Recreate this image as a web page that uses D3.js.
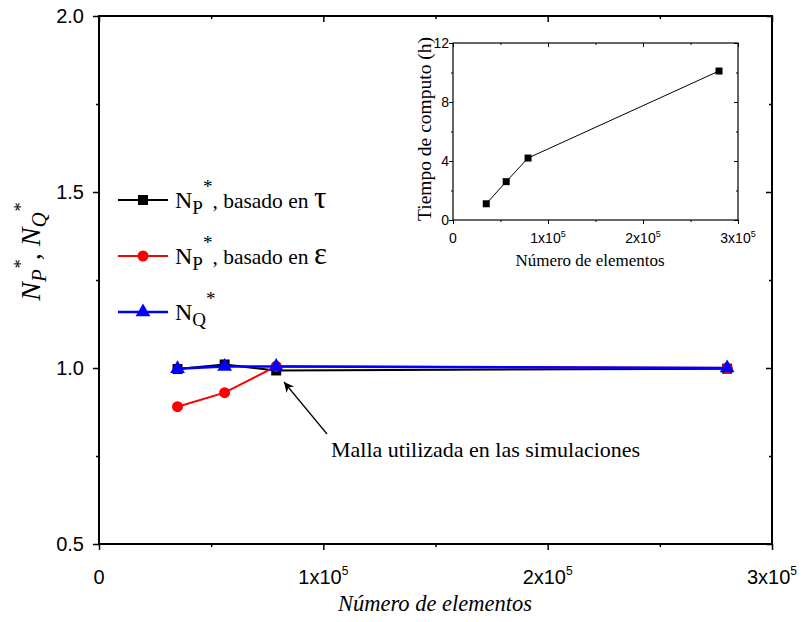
<!DOCTYPE html>
<html>
<head>
<meta charset="utf-8">
<script src="https://cdn.jsdelivr.net/npm/d3@7"></script>
<style>
  html, body { margin: 0; padding: 0; background: #fff; }
  svg { display: block; }
  .serif { font-family: "Liberation Serif", "Times New Roman", serif; }
  .sans { font-family: "Liberation Sans", Arial, sans-serif; }
</style>
</head>
<body>
<svg id="chart" width="804" height="622"></svg>
<script>
// Number of mesh elements for each simulation
const elementos = [35000, 56000, 79000, 280000];
// Normalised quantities
const npTau = [0.997, 1.01, 0.993, 0.998];
const npEps = [0.89, 0.93, 1.005, 1.0];
const nq = [0.998, 1.004, 1.004, 1.0];
// Computation time (hours) per mesh
const tiempo = [1.1, 2.6, 4.2, 10.1];

const mainYTicks = [0.5, 1.0, 1.5, 2.0];
const mainXTicks = [0, 100000, 200000, 300000];
const insetYTicks = [0, 4, 8, 12];

const svg = d3.select("#chart");

// ---------- main panel ----------
const M = { left: 99, right: 772, top: 16, bottom: 544 };
const x = d3.scaleLinear().domain([0, 300000]).range([M.left, M.right]);
const y = d3.scaleLinear().domain([0.5, 2.0]).range([M.bottom, M.top]);

function xLabel(g, v, px, py, size, supSize) {
  const t = g.append("text").attr("class", "sans").attr("x", px).attr("y", py)
    .attr("text-anchor", "middle").attr("font-size", size).attr("fill", "#000");
  if (v === 0) { t.text("0"); return; }
  const m = Math.round(v / 100000);
  t.append("tspan").text(m + "x10");
  t.append("tspan").attr("font-size", supSize).attr("dy", -size * 0.45).text("5");
}

function frame(g, xs, ys, opts) {
  const [x0, x1] = xs.range();
  const [y0, y1] = ys.range();
  // minor and major ticks on all four sides
  const bottom = d3.axisBottom(xs).tickValues(opts.xMajor).tickSize(opts.major).tickFormat("");
  const bottomMinor = d3.axisBottom(xs).tickValues(opts.xMinor).tickSize(opts.minor).tickFormat("");
  const top = d3.axisTop(xs).tickValues(opts.xMajor).tickSize(-opts.major).tickFormat("");
  const topMinor = d3.axisTop(xs).tickValues(opts.xMinor).tickSize(-opts.minor).tickFormat("");
  const left = d3.axisLeft(ys).tickValues(opts.yMajor).tickSize(opts.major).tickFormat("");
  const leftMinor = d3.axisLeft(ys).tickValues(opts.yMinor).tickSize(opts.minor).tickFormat("");
  const right = d3.axisRight(ys).tickValues(opts.yMajor).tickSize(-opts.major).tickFormat("");
  const rightMinor = d3.axisRight(ys).tickValues(opts.yMinor).tickSize(-opts.minor).tickFormat("");
  const add = (ax, tr) => {
    const a = g.append("g").attr("transform", tr).call(ax);
    a.select(".domain").remove();
    a.selectAll("line").attr("stroke", "#000").attr("stroke-width", opts.tickW);
  };
  add(bottom, `translate(0,${y0})`); add(bottomMinor, `translate(0,${y0})`);
  add(top, `translate(0,${y1})`); add(topMinor, `translate(0,${y1})`);
  add(left, `translate(${x0},0)`); add(leftMinor, `translate(${x0},0)`);
  add(right, `translate(${x1},0)`); add(rightMinor, `translate(${x1},0)`);
  g.append("rect").attr("x", x0).attr("y", y1).attr("width", x1 - x0).attr("height", y0 - y1)
    .attr("fill", "none").attr("stroke", "#000").attr("stroke-width", opts.frameW);
}

const main = svg.append("g");
frame(main, x, y, {
  xMajor: mainXTicks, xMinor: [50000, 150000, 250000],
  yMajor: mainYTicks, yMinor: [0.75, 1.25, 1.75],
  major: 6, minor: 3, tickW: 1.5, frameW: 2
});

mainYTicks.forEach(v => {
  main.append("text").attr("class", "sans").attr("x", 84).attr("y", y(v) + 7)
    .attr("text-anchor", "end").attr("font-size", 20).attr("fill", "#000").text(v.toFixed(1));
});
mainXTicks.forEach(v => xLabel(main, v, x(v), 584, 20, 12));

// axis titles
main.append("text").attr("class", "serif").attr("x", 435).attr("y", 611)
  .attr("text-anchor", "middle").attr("font-size", 22.5).attr("font-style", "italic")
  .text("Número de elementos");

const yt = main.append("text").attr("class", "serif").attr("font-size", 28)
  .attr("font-style", "italic").attr("text-anchor", "middle")
  .attr("transform", "translate(40,252) rotate(-90)");
yt.append("tspan").text("N");
yt.append("tspan").attr("font-size", 21).attr("dy", 6).text("P");
yt.append("tspan").attr("font-size", 18).attr("dy", -19).text("*");
yt.append("tspan").attr("dy", 13).text(", N");
yt.append("tspan").attr("font-size", 21).attr("dy", 6).text("Q");
yt.append("tspan").attr("font-size", 18).attr("dy", -19).text("*");

// series
const series = [
  { vals: npTau, color: "#000", shape: d3.symbolSquare, size: 100, w: 2 },
  { vals: npEps, color: "#ff0000", shape: d3.symbolCircle, size: 95, w: 2 },
  { vals: nq, color: "#0000ff", shape: d3.symbolTriangle, size: 95, w: 2.5 }
];
const line = d3.line().x(d => x(d[0])).y(d => y(d[1]));
series.forEach(s => {
  const pts = elementos.map((e, i) => [e, s.vals[i]]);
  main.append("path").datum(pts).attr("d", line).attr("fill", "none")
    .attr("stroke", s.color).attr("stroke-width", s.w);
  main.selectAll(null).data(pts).enter().append("path")
    .attr("d", d3.symbol().type(s.shape).size(s.size))
    .attr("transform", d => `translate(${x(d[0])},${y(d[1])})`)
    .attr("fill", s.color);
});

// annotation arrow pointing to the chosen mesh
const defs = svg.append("defs");
defs.append("marker").attr("id", "arrow").attr("viewBox", "0 0 10 10")
  .attr("refX", 10).attr("refY", 5).attr("markerWidth", 10).attr("markerHeight", 10)
  .attr("markerUnits", "userSpaceOnUse").attr("orient", "auto")
  .append("path").attr("d", "M0,0 L10,5 L0,10 L3,5 Z").attr("fill", "#000");
main.append("line").attr("x1", 327).attr("y1", 434).attr("x2", 284).attr("y2", 382)
  .attr("stroke", "#000").attr("stroke-width", 1.2).attr("marker-end", "url(#arrow)");
main.append("text").attr("class", "serif").attr("x", 331).attr("y", 457)
  .attr("font-size", 22).attr("fill", "#000").text("Malla utilizada en las simulaciones");

// legend
const legend = [
  { s: series[0], sub: "P", tail: ", basado en ", sym: "τ" },
  { s: series[1], sub: "P", tail: ", basado en ", sym: "ε" },
  { s: series[2], sub: "Q", tail: "", sym: "" }
];
legend.forEach((l, i) => {
  const ly = 200 + i * 56;
  main.append("line").attr("x1", 118).attr("x2", 168).attr("y1", ly).attr("y2", ly)
    .attr("stroke", l.s.color).attr("stroke-width", l.s.w);
  main.append("path").attr("d", d3.symbol().type(l.s.shape).size(l.s.size))
    .attr("transform", `translate(143,${ly})`).attr("fill", l.s.color);
  const t = main.append("text").attr("class", "serif").attr("x", 175).attr("y", ly + 8)
    .attr("font-size", 24).attr("fill", "#000");
  t.append("tspan").text("N");
  t.append("tspan").attr("font-size", 19).attr("dy", 6).text(l.sub);
  t.append("tspan").attr("font-size", 19).attr("dy", -21).text("*");
  if (l.tail) {
    t.append("tspan").attr("font-size", 21.5).attr("dy", 15).text(l.tail);
    t.append("tspan").attr("font-size", 31).text(l.sym);
  }
});

// ---------- inset: computation time ----------
const xi = d3.scaleLinear().domain([0, 300000]).range([453, 738]);
const yi = d3.scaleLinear().domain([0, 12]).range([220, 43]);
const inset = svg.append("g");
frame(inset, xi, yi, {
  xMajor: mainXTicks, xMinor: [50000, 150000, 250000],
  yMajor: insetYTicks, yMinor: [2, 6, 10],
  major: 4, minor: 2, tickW: 1, frameW: 1.2
});
insetYTicks.forEach(v => {
  inset.append("text").attr("class", "sans").attr("x", 449).attr("y", yi(v) + 5)
    .attr("text-anchor", "end").attr("font-size", 14).attr("fill", "#000").text(v);
});
mainXTicks.forEach(v => xLabel(inset, v, xi(v), 243, 14, 9));
inset.append("text").attr("class", "serif").attr("x", 590).attr("y", 266)
  .attr("text-anchor", "middle").attr("font-size", 17).text("Número de elementos");
inset.append("text").attr("class", "serif").attr("font-size", 19.5).attr("text-anchor", "middle")
  .attr("transform", "translate(431,129) rotate(-90)").text("Tiempo de computo (h)");

const tpts = elementos.map((e, i) => [e, tiempo[i]]);
inset.append("path").datum(tpts)
  .attr("d", d3.line().x(d => xi(d[0])).y(d => yi(d[1])))
  .attr("fill", "none").attr("stroke", "#000").attr("stroke-width", 1);
inset.selectAll(null).data(tpts).enter().append("rect")
  .attr("x", d => xi(d[0]) - 3.5).attr("y", d => yi(d[1]) - 3.5)
  .attr("width", 7).attr("height", 7).attr("fill", "#000");
</script>
</body>
</html>
